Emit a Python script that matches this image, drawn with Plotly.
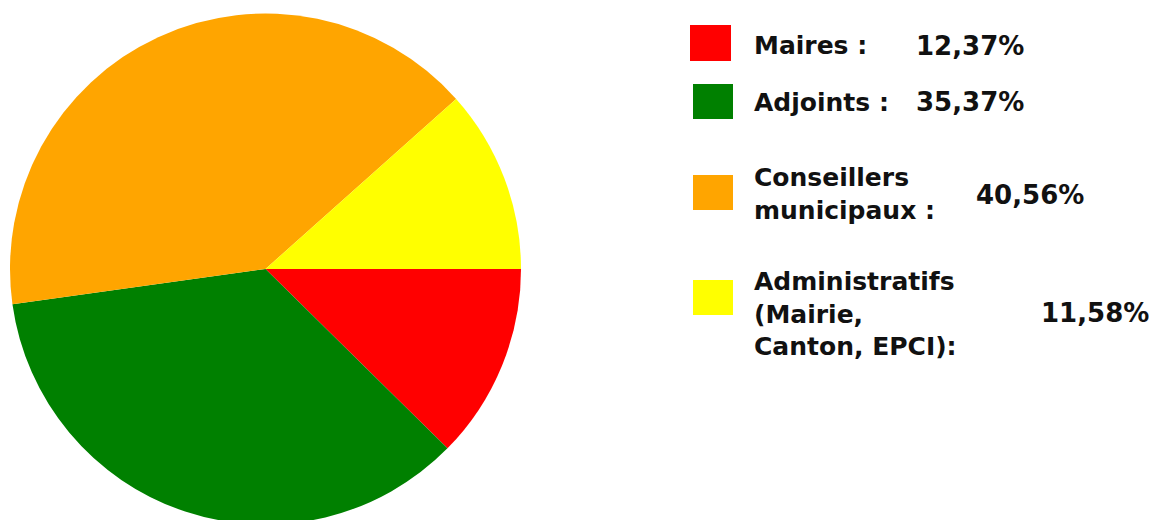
import plotly.graph_objects as go

labels = ["Maires :", "Adjoints :", "Conseillers<br>municipaux :", "Administratifs<br>(Mairie,<br>Canton, EPCI):"]
values = [12.37, 35.37, 40.56, 11.58]
value_labels = ["12,37%", "35,37%", "40,56%", "11,58%"]
colors = ["#FF0000", "#008000", "#FFA500", "#FFFF00"]

W, H = 1157, 520
OFF = 8  # page body margin offset

def px(x):
    return (x - OFF) / W

def py(y):
    return 1 - (y - OFF) / H

fig = go.Figure(go.Pie(
    values=values,
    labels=labels,
    marker=dict(colors=colors, line=dict(width=0)),
    sort=False,
    direction="clockwise",
    rotation=90,
    textinfo="none",
    hoverinfo="label+percent",
    showlegend=False,
    domain=dict(x=[px(10), px(521)], y=[py(524.5), py(13.5)]),
))

# legend layout (screen pixel positions)
square_boxes = [(690, 25, 731, 61), (693, 84, 733, 119), (693, 175, 733, 210), (693, 280, 733, 315)]
label_pos = [(752, 46), (752, 102), (752, 193.5), (752, 313.5)]
value_pos = [(914, 46), (914, 102), (974, 195), (1039, 313)]

shapes = []
annotations = []
for i in range(len(values)):
    x0, y0, x1, y1 = square_boxes[i]
    shapes.append(dict(type="rect", xref="paper", yref="paper",
                       x0=px(x0), x1=px(x1), y0=py(y1), y1=py(y0),
                       fillcolor=colors[i], line=dict(width=0)))
    lx, ly = label_pos[i]
    annotations.append(dict(xref="paper", yref="paper", x=px(lx), y=py(ly),
                            xanchor="left", yanchor="middle", align="left",
                            text="<b>" + labels[i].replace("<br>", "</b><br><b>") + "</b>",
                            showarrow=False,
                            font=dict(family="DejaVu Sans", size=25, color="#111111")))
    vx, vy = value_pos[i]
    annotations.append(dict(xref="paper", yref="paper", x=px(vx), y=py(vy),
                            xanchor="left", yanchor="middle",
                            text="<b>" + value_labels[i] + "</b>", showarrow=False,
                            font=dict(family="DejaVu Sans", size=26, color="#111111")))

fig.update_layout(
    width=W, height=H,
    margin=dict(l=0, r=0, t=0, b=0),
    paper_bgcolor="white", plot_bgcolor="white",
    shapes=shapes, annotations=annotations,
)

fig.write_html("out.html")
